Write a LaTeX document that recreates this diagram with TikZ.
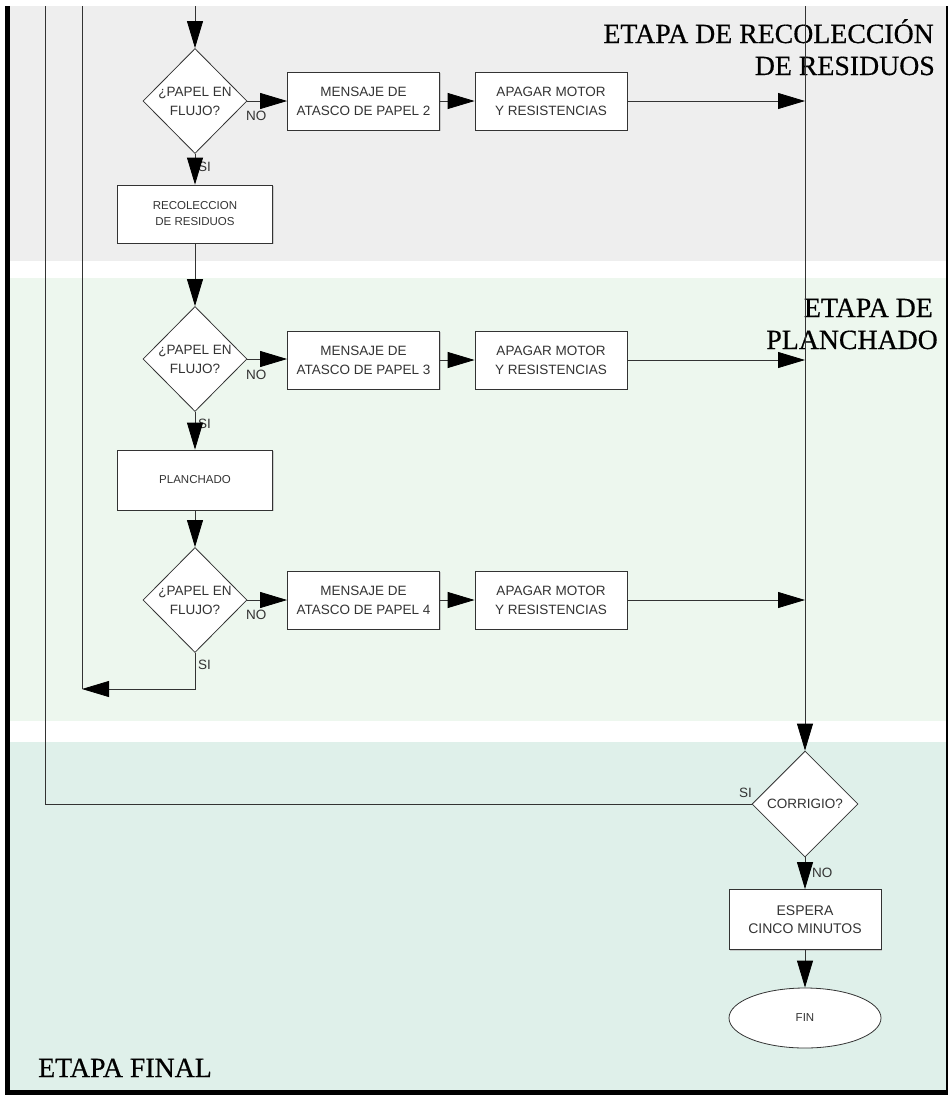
\documentclass[tikz,border=0pt]{standalone}
\usepackage{fontspec}
\setmainfont{Liberation Serif}
\setsansfont{Liberation Sans}
\newfontfamily\stagefont[FakeBold=0.5]{Liberation Serif}
\usetikzlibrary{shapes.geometric,arrows.meta,shadows}

\definecolor{bandgray}{HTML}{EEEEEE}
\definecolor{bandgreen}{HTML}{EDF7EE}
\definecolor{bandteal}{HTML}{DFF0EA}
\definecolor{ink}{HTML}{333333}

\tikzset{
  flow/.style={draw=ink, line width=0.8pt},
  arr/.style={flow, -{Triangle[length=27pt,width=16pt,color=black]}},
  proc/.style={rectangle, draw=ink, line width=0.8pt, fill=white,
    minimum width=152pt, minimum height=58pt, inner sep=0pt, align=center,
    text=ink, font=\sffamily\fontsize{13.5}{19}\selectfont,
    drop shadow={shadow xshift=1.2pt, shadow yshift=-1.2pt, fill=black!30, opacity=0.6}},
  smallproc/.style={proc, minimum width=155pt, font=\sffamily\fontsize{11.5}{16}\selectfont},
  dec/.style={diamond, draw=ink, line width=0.8pt, fill=white,
    minimum width=104pt, minimum height=105pt, inner sep=-3pt, align=center,
    text=ink, font=\sffamily\fontsize{13.5}{19}\selectfont},
  term/.style={ellipse, draw=ink, line width=0.8pt, fill=white,
    minimum width=152pt, minimum height=60pt, inner sep=0pt,
    text=ink, font=\sffamily\fontsize{11.5}{14}\selectfont},
  lbl/.style={font=\sffamily\fontsize{13.5}{16}\selectfont, text=ink, inner sep=0pt, anchor=west},
  stage/.style={font=\stagefont\fontsize{27.8}{32}\selectfont, text=black, inner sep=0pt},
}

\begin{document}
\begin{tikzpicture}[x=1pt,y=-1pt]
\useasboundingbox (0,0) rectangle (948,1095);

% stage bands
\fill[bandgray]  (10,6)   rectangle (945.5,261);
\fill[bandgreen] (10,278) rectangle (945.5,721);
\fill[bandteal]  (10,742) rectangle (945.5,1090);

% frame
\fill[black] (5,6) rectangle (10,1095);
\fill[black] (5,1090) rectangle (948,1095);
\fill[black] (945.5,6) rectangle (948,1095);

% stage titles
\node[stage, anchor=base east] (t1a) at (934,43) {ETAPA DE RECOLECCIÓN};
\node[stage, anchor=base east] (t1b) at (935,75) {DE RESIDUOS};
\node[stage, anchor=base east] (t2a) at (933,317) {ETAPA DE};
\node[stage, anchor=base east] (t2b) at (938,349) {PLANCHADO};
\node[stage, anchor=base west] (t3)  at (38,1077) {ETAPA FINAL};

% branch labels
\node[lbl] (n1) at (246,116) {NO};
\node[lbl] (s1) at (198,167) {SI};
\node[lbl] (n2) at (246,375) {NO};
\node[lbl] (s2) at (198,424) {SI};
\node[lbl] (n3) at (246,615) {NO};
\node[lbl] (s3) at (198,665) {SI};
\node[lbl] (s4) at (739,793) {SI};
\node[lbl] (n4) at (812,873) {NO};

% waste collection stage
\node[dec] (d1) at (195,101) {¿PAPEL EN\\FLUJO?};
\node[proc] (m2) at (363.5,101) {MENSAJE DE\\ATASCO DE PAPEL 2};
\node[proc] (a2) at (551,101) {APAGAR MOTOR\\Y RESISTENCIAS};
\node[smallproc] (r1) at (195,214) {RECOLECCION\\DE RESIDUOS};

% ironing stage
\node[dec] (d2) at (195,359) {¿PAPEL EN\\FLUJO?};
\node[proc] (m3) at (363.5,360) {MENSAJE DE\\ATASCO DE PAPEL 3};
\node[proc] (a3) at (551,360) {APAGAR MOTOR\\Y RESISTENCIAS};
\node[smallproc, minimum height=60pt] (p1) at (195,480) {PLANCHADO};
\node[dec] (d3) at (195,600) {¿PAPEL EN\\FLUJO?};
\node[proc] (m4) at (363.5,600) {MENSAJE DE\\ATASCO DE PAPEL 4};
\node[proc] (a4) at (551,600) {APAGAR MOTOR\\Y RESISTENCIAS};

% final stage
\node[dec, minimum width=106pt, minimum height=106pt] (cor) at (805,804) {CORRIGIO?};
\node[proc, minimum height=60pt, font=\sffamily\fontsize{14}{18}\selectfont] (esp) at (805,919.5) {ESPERA\\CINCO MINUTOS};
\node[term] (fin) at (805,1018) {FIN};

% loose ends of the connectors
\coordinate (in0) at (195,6);
\coordinate (rtop) at (805,6);
\coordinate (j1) at (805,101);
\coordinate (j2) at (805,360);
\coordinate (j3) at (805,600);
\coordinate (ret1) at (82,689);
\coordinate (ret1top) at (82,6);
\coordinate (ret2) at (45,804);
\coordinate (ret2top) at (45,6);

% connectors
\draw[arr] (in0) -- (d1.north);
\draw[arr] (d1.east) -- (m2.west);
\draw[arr] (m2.east) -- (a2.west);
\draw[arr] (a2.east) -- (j1);
\draw[arr] (d1.south) -- (r1.north);
\draw[arr] (r1.south) -- (d2.north);

\draw[arr] (d2.east) -- (d2.east -| m3.west);
\draw[arr] (m3.east) -- (a3.west);
\draw[arr] (a3.east) -- (j2);
\draw[arr] (d2.south) -- (p1.north);
\draw[arr] (p1.south) -- (d3.north);
\draw[arr] (d3.east) -- (m4.west);
\draw[arr] (m4.east) -- (a4.west);
\draw[arr] (a4.east) -- (j3);
\draw[arr] (d3.south) |- (ret1);
\draw[flow] (ret1) -- (ret1top);

\draw[arr] (rtop) -- (cor.north);
\draw[flow] (cor.west) -- (ret2) -- (ret2top);
\draw[arr] (cor.south) -- (esp.north);
\draw[arr] (esp.south) -- (fin.north);
\end{tikzpicture}
\end{document}
